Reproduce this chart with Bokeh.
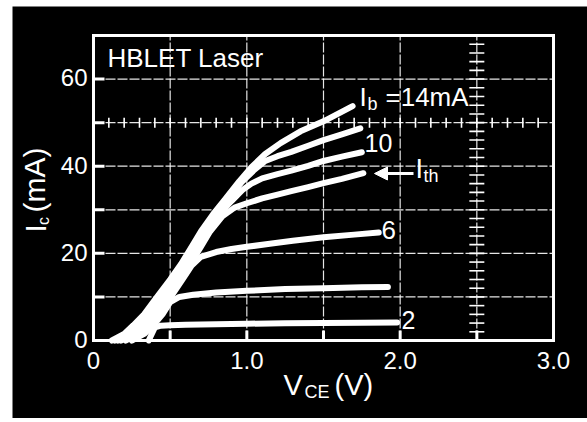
import math
from bokeh.plotting import figure
from bokeh.layouts import column, row
from bokeh.models import Range1d, Arrow, NormalHead, Spacer
from bokeh.core.properties import value
from bokeh.embed import file_html
from bokeh.resources import INLINE

# ---- data: Ic (mA) versus VCE (V) for each base current Ib (mA)
ib_values = [14, 12, 10, 8, 6, 4, 2]

vce_14 = [0.12, 0.20, 0.26, 0.33, 0.41, 0.50, 0.57, 0.64, 0.70, 0.78, 0.86, 0.95, 1.03, 1.12, 1.22, 1.35, 1.50, 1.69]
ic_14 = [0.0, 1.5, 3.5, 6.0, 9.8, 14.0, 17.5, 21.5, 25.0, 29.0, 32.5, 36.5, 39.8, 42.8, 45.3, 48.0, 50.3, 53.8]

vce_12 = [0.14, 0.22, 0.28, 0.35, 0.43, 0.52, 0.59, 0.66, 0.72, 0.80, 0.88, 0.97, 1.05, 1.12, 1.20, 1.29, 1.40, 1.50, 1.62, 1.74]
ic_12 = [0.0, 1.5, 3.5, 6.0, 9.8, 14.0, 17.5, 21.5, 25.0, 29.0, 32.5, 36.5, 39.2, 41.2, 42.3, 43.3, 44.7, 46.0, 47.3, 48.7]

vce_10 = [0.16, 0.24, 0.30, 0.37, 0.45, 0.54, 0.61, 0.68, 0.74, 0.82, 0.90, 0.97, 1.03, 1.10, 1.20, 1.29, 1.40, 1.50, 1.62, 1.75]
ic_10 = [0.0, 1.5, 3.5, 6.0, 9.8, 14.0, 17.5, 21.5, 25.0, 29.0, 32.0, 34.5, 36.0, 37.2, 38.2, 39.0, 40.1, 41.2, 42.2, 43.2]

vce_8 = [0.18, 0.26, 0.32, 0.39, 0.47, 0.56, 0.63, 0.70, 0.76, 0.84, 0.92, 1.00, 1.10, 1.20, 1.29, 1.40, 1.50, 1.62, 1.76]
ic_8 = [0.0, 1.5, 3.5, 6.0, 9.8, 14.0, 17.5, 21.5, 25.0, 28.5, 30.5, 31.5, 32.6, 33.5, 34.3, 35.2, 36.1, 37.1, 38.4]

vce_6 = [0.21, 0.29, 0.35, 0.42, 0.50, 0.58, 0.64, 0.70, 0.80, 0.90, 1.00, 1.15, 1.30, 1.50, 1.70, 1.86]
ic_6 = [0.0, 1.5, 3.5, 6.0, 9.8, 14.0, 17.2, 19.2, 20.3, 21.0, 21.5, 22.2, 22.9, 23.7, 24.3, 24.8]

vce_4 = [0.25, 0.33, 0.39, 0.45, 0.50, 0.56, 0.65, 0.80, 1.00, 1.25, 1.50, 1.75, 1.92]
ic_4 = [0.0, 1.5, 3.5, 6.0, 8.8, 10.0, 10.5, 11.0, 11.4, 11.8, 12.0, 12.2, 12.3]

vce_2 = [0.36, 0.38, 0.40, 0.44, 0.50, 0.60, 0.80, 1.00, 1.25, 1.50, 1.75, 1.98]
ic_2 = [0.0, 1.5, 3.0, 3.4, 3.5, 3.6, 3.75, 3.85, 3.95, 4.0, 4.05, 4.15]

curves = [(vce_14, ic_14), (vce_12, ic_12), (vce_10, ic_10), (vce_8, ic_8),
          (vce_6, ic_6), (vce_4, ic_4), (vce_2, ic_2)]

# axes / graticule
x_ticks = [0, 1.0, 2.0, 3.0]
x_tick_labels = ["0", "1.0", "2.0", "3.0"]
y_ticks = [0, 20, 40, 60]
y_tick_labels = ["0", "20", "40", "60"]
x_marks = [0.5, 1.0, 1.5, 2.0, 2.5]          # heavy marks on the bottom edge
y_marks = [10, 20, 30, 40, 50, 60]           # heavy marks on the left edge
x_grid = [0.5, 1.0, 1.5, 2.0, 2.5]
y_grid = [10, 20, 30, 40, 50, 60]
center_y = 50      # horizontal graticule centre line (with fine ticks)
center_x = 2.5     # vertical graticule centre line (with fine ticks)
fine_x = [round(0.1 * i, 1) for i in range(1, 30)]
fine_y = [2 * i for i in range(1, 35)]

FONT = value("Liberation Sans")
# frame position in page pixels; figure placed at page (12, 6)
OX, OY = 12, 6
W, H = 575, 412
FL, FR, FT, FB = 93, 553, 35, 340
XMIN, XMAX, YMIN, YMAX = 0.0, 3.0, 0.0, 70.0
KX = (XMAX - XMIN) / (FR - FL)
KY = (YMAX - YMIN) / (FB - FT)
BASE_FIX = 0.42   # renderer draws "alphabetic" text this many em too low


def dx(px):
    return XMIN + (px - FL) * KX


def dy(py):
    return YMIN + (FB - py) * KY


p = figure(width=W, height=H, output_backend="svg", toolbar_location=None,
           x_range=Range1d(dx(OX), dx(OX + W)), y_range=Range1d(dy(OY + H), dy(OY)),
           x_axis_location=None, y_axis_location=None, min_border=0)
p.background_fill_color = "black"
p.border_fill_color = "black"
p.outline_line_color = None
p.xgrid.visible = False
p.ygrid.visible = False

# graticule grid lines
GRID = dict(line_color="white", line_width=1.2, line_dash="10 2", line_alpha=0.9)
p.segment(x0=x_grid, x1=x_grid, y0=[YMIN] * len(x_grid), y1=[YMAX] * len(x_grid), **GRID)
p.segment(x0=[XMIN] * len(y_grid), x1=[XMAX] * len(y_grid), y0=y_grid, y1=y_grid, **GRID)

# fine ticks on the graticule centre lines
p.scatter(fine_x, [center_y] * len(fine_x), marker="dash", size=10, angle=math.pi / 2,
          line_color="white", line_width=1.6)
p.scatter([center_x] * len(fine_y), fine_y, marker="dash", size=15,
          line_color="white", line_width=1.6)

# frame and heavy edge marks
p.quad(left=[XMIN], right=[XMAX], bottom=[YMIN], top=[YMAX], fill_color=None,
       line_color="white", line_width=3, line_join="miter")
p.segment(x0=[XMIN] * len(y_marks), x1=[XMIN + 11 * KX] * len(y_marks), y0=y_marks, y1=y_marks,
          line_color="white", line_width=3)
p.segment(x0=x_marks, x1=x_marks, y0=[YMIN] * len(x_marks), y1=[YMIN + 10 * KY] * len(x_marks),
          line_color="white", line_width=3)

# tick labels (baseline 9 px below the tick for y, page row 370 for x)
TS = 24
p.text(x=x_ticks, y=[dy(370 - BASE_FIX * TS)] * len(x_ticks), text=x_tick_labels,
       text_color="white", text_font=FONT, text_font_size=value(f"{TS}px"),
       text_align="center", text_baseline="alphabetic")
p.text(x=[dx(87)] * len(y_ticks), y=[v - (9 - BASE_FIX * TS) * KY for v in y_ticks],
       text=y_tick_labels, text_color="white", text_font=FONT,
       text_font_size=value(f"{TS}px"), text_align="right", text_baseline="alphabetic")

# curves
for (v, i) in curves:
    p.line(v, i, line_color="white", line_width=6, line_cap="round", line_join="round")


def lab(text, px, py, size, angle=0.0):
    if angle:
        px = px - BASE_FIX * size
    else:
        py = py - BASE_FIX * size
    p.text(x=[dx(px)], y=[dy(py)], text=[text], text_color="white",
           text_font=FONT, text_font_size=value(f"{size}px"),
           text_align="left", text_baseline="alphabetic", angle=angle)


lab("HBLET Laser", 107, 68, 26)
lab("I", 359, 107, 26)
lab("b", 367, 111, 18)
lab("=14mA", 385, 107, 26)
lab("10", 364, 153, 25)
lab("6", 381, 240, 26)
lab("2", 401, 330, 25)
lab("I", 415, 180, 27)
lab("th", 423, 183, 18)
p.add_layout(Arrow(end=NormalHead(size=13, fill_color="white", line_color="white"),
                   x_start=dx(413), y_start=dy(173), x_end=dx(374), y_end=dy(173),
                   line_color="white", line_width=3))

# axis titles
lab("V", 283, 397, 29)
lab("CE", 304, 399, 18)
lab("(V)", 334, 397, 29)
lab("I", 48, 232, 30, math.pi / 2)
lab("c", 50, 224.5, 16, math.pi / 2)
lab("(mA)", 47, 212, 30, math.pi / 2)

layout = column(Spacer(height=OY), row(Spacer(width=OX), p))
open("out.html", "w").write(file_html(layout, INLINE))
